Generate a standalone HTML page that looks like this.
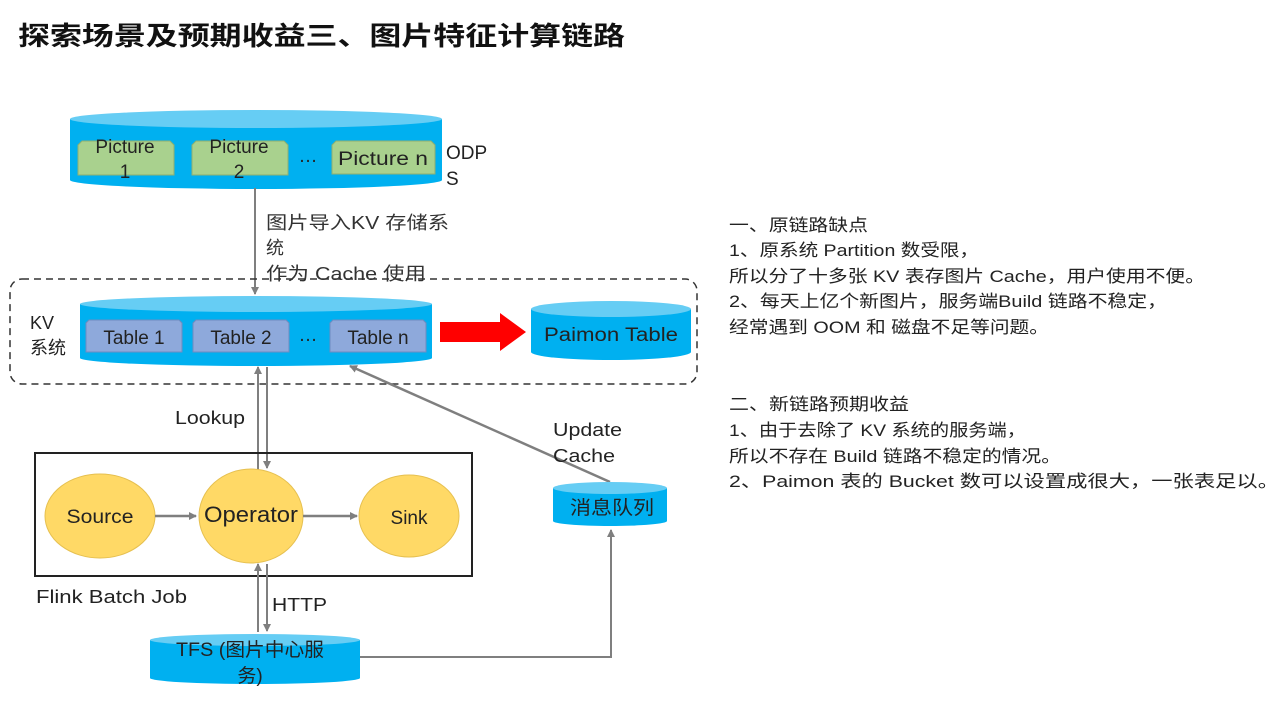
<!DOCTYPE html>
<html><head><meta charset="utf-8"><style>
html,body{margin:0;padding:0;background:#fff;width:1280px;height:720px;overflow:hidden}
svg text{font-family:"Liberation Sans","Noto Sans CJK SC",sans-serif;}
</style></head><body>
<svg width="1280" height="720" viewBox="0 0 1280 720" xmlns="http://www.w3.org/2000/svg">
<defs>
<marker id="ah" markerWidth="8" markerHeight="8" refX="7" refY="4" orient="auto" markerUnits="userSpaceOnUse">
<path d="M0,0 L8,4 L0,8 z" fill="#7f7f7f"/></marker>
</defs>
<text x="18" y="45" font-size="26" font-weight="bold" fill="#111" textLength="607" lengthAdjust="spacingAndGlyphs">探索场景及预期收益三、图片特征计算链路</text>

<path d="M70,119 L70,180 A186,9 0 0 0 442,180 L442,119 Z" fill="#00b0f0"/>
<ellipse cx="256" cy="119" rx="186" ry="9" fill="#66cdf4"/>
<g font-size="19" fill="#222" text-anchor="middle">
<path d="M78,145 l4,-4 h88 l4,4 v30 h-96z" fill="#a9d18e" stroke="#8fb070"/>
<path d="M192,145 l4,-4 h88 l4,4 v30 h-96z" fill="#a9d18e" stroke="#8fb070"/>
<path d="M332,145 l4,-4 h95 l4,4 v29 h-103z" fill="#a9d18e" stroke="#8fb070"/>
<text x="125" y="153">Picture</text><text x="125" y="178">1</text>
<text x="239" y="153">Picture</text><text x="239" y="178">2</text>
<text x="383" y="165" textLength="90" lengthAdjust="spacingAndGlyphs">Picture  n</text>
<text x="308" y="162">…</text>
</g>
<text x="446" y="159" font-size="19" fill="#222">ODP</text>
<text x="446" y="185" font-size="19" fill="#222">S</text>

<line x1="255" y1="188" x2="255" y2="294" stroke="#7f7f7f" stroke-width="2" marker-end="url(#ah)"/>
<g font-size="18" fill="#333">
<text x="266" y="229" textLength="183" lengthAdjust="spacingAndGlyphs">图片导入KV 存储系</text>
<text x="266" y="254">统</text>
<text x="266" y="280" textLength="160" lengthAdjust="spacingAndGlyphs">作为 Cache 使用</text>
</g>

<rect x="10" y="279" width="687" height="105" rx="12" fill="none" stroke="#333" stroke-width="1.5" stroke-dasharray="7,5"/>
<text x="30" y="329" font-size="18" fill="#222">KV</text>
<text x="30" y="354" font-size="18" fill="#222">系统</text>

<path d="M80,304 L80,358 A176,8 0 0 0 432,358 L432,304 Z" fill="#00b0f0"/>
<ellipse cx="256" cy="304" rx="176" ry="8" fill="#66cdf4"/>
<g font-size="19" fill="#222" text-anchor="middle">
<path d="M86,323 l3,-3 h90 l3,3 v29 h-96z" fill="#8ea9db" stroke="#6f8cc0"/>
<path d="M193,323 l3,-3 h90 l3,3 v29 h-96z" fill="#8ea9db" stroke="#6f8cc0"/>
<path d="M330,323 l3,-3 h90 l3,3 v29 h-96z" fill="#8ea9db" stroke="#6f8cc0"/>
<text x="134" y="344">Table  1</text>
<text x="241" y="344">Table  2</text>
<text x="378" y="344">Table  n</text>
<text x="308" y="341">…</text>
</g>

<path d="M440,322 L500,322 L500,313 L526,332 L500,351 L500,342 L440,342 Z" fill="#ff0000"/>

<path d="M531,309 L531,352 A80,8 0 0 0 691,352 L691,309 Z" fill="#00b0f0"/>
<ellipse cx="611" cy="309" rx="80" ry="8" fill="#66cdf4"/>
<text x="611" y="341" font-size="19" fill="#222" text-anchor="middle" textLength="134" lengthAdjust="spacingAndGlyphs">Paimon  Table</text>

<line x1="258" y1="470" x2="258" y2="367" stroke="#7f7f7f" stroke-width="2" marker-end="url(#ah)"/>
<line x1="267" y1="367" x2="267" y2="468" stroke="#7f7f7f" stroke-width="2" marker-end="url(#ah)"/>
<text x="175" y="424" font-size="18" fill="#222" textLength="70" lengthAdjust="spacingAndGlyphs">Lookup</text>

<line x1="610" y1="482" x2="350" y2="366" stroke="#7f7f7f" stroke-width="2.5" marker-end="url(#ah)"/>
<text x="553" y="436" font-size="18" fill="#222" textLength="69" lengthAdjust="spacingAndGlyphs">Update</text>
<text x="553" y="462" font-size="18" fill="#222" textLength="62" lengthAdjust="spacingAndGlyphs">Cache</text>

<rect x="35" y="453" width="437" height="123" fill="none" stroke="#222" stroke-width="2"/>
<ellipse cx="100" cy="516" rx="55" ry="42" fill="#ffd966" stroke="#e6c050"/>
<ellipse cx="251" cy="516" rx="52" ry="47" fill="#ffd966" stroke="#e6c050"/>
<ellipse cx="409" cy="516" rx="50" ry="41" fill="#ffd966" stroke="#e6c050"/>
<text x="100" y="523" font-size="19" fill="#222" text-anchor="middle" textLength="67" lengthAdjust="spacingAndGlyphs">Source</text>
<text x="251" y="522" font-size="22" fill="#222" text-anchor="middle" textLength="94" lengthAdjust="spacingAndGlyphs">Operator</text>
<text x="409" y="524" font-size="19" fill="#222" text-anchor="middle">Sink</text>
<line x1="155" y1="516" x2="196" y2="516" stroke="#7f7f7f" stroke-width="2.5" marker-end="url(#ah)"/>
<line x1="303" y1="516" x2="357" y2="516" stroke="#7f7f7f" stroke-width="2.5" marker-end="url(#ah)"/>
<text x="36" y="603" font-size="18" fill="#222" textLength="151" lengthAdjust="spacingAndGlyphs">Flink  Batch  Job</text>

<line x1="258" y1="632" x2="258" y2="564" stroke="#7f7f7f" stroke-width="2" marker-end="url(#ah)"/>
<line x1="267" y1="564" x2="267" y2="631" stroke="#7f7f7f" stroke-width="2" marker-end="url(#ah)"/>
<text x="272" y="611" font-size="18" fill="#222" textLength="55" lengthAdjust="spacingAndGlyphs">HTTP</text>

<path d="M150,640 L150,678 A105,6 0 0 0 360,678 L360,640 Z" fill="#00b0f0"/>
<ellipse cx="255" cy="640" rx="105" ry="6" fill="#66cdf4"/>
<text x="250" y="656" font-size="19" fill="#222" text-anchor="middle" textLength="148" lengthAdjust="spacingAndGlyphs">TFS (图片中心服</text>
<text x="250" y="682" font-size="19" fill="#222" text-anchor="middle">务)</text>

<polyline points="360,657 611,657 611,530" fill="none" stroke="#7f7f7f" stroke-width="2" marker-end="url(#ah)"/>

<path d="M553,488 L553,521 A57,5 0 0 0 667,521 L667,488 Z" fill="#00b0f0"/>
<ellipse cx="610" cy="488" rx="57" ry="6" fill="#66cdf4"/>
<text x="612" y="514" font-size="19" fill="#222" text-anchor="middle" textLength="84" lengthAdjust="spacingAndGlyphs">消息队列</text>

<g font-size="17" fill="#222">
<text x="729" y="231" textLength="139" lengthAdjust="spacingAndGlyphs">一、原链路缺点</text>
<text x="729" y="256" textLength="250" lengthAdjust="spacingAndGlyphs">1、原系统 Partition  数受限，</text>
<text x="729" y="282" textLength="476" lengthAdjust="spacingAndGlyphs">所以分了十多张 KV 表存图片 Cache，用户使用不便。</text>
<text x="729" y="307" textLength="438" lengthAdjust="spacingAndGlyphs">2、每天上亿个新图片，服务端Build  链路不稳定，</text>
<text x="729" y="333" textLength="320" lengthAdjust="spacingAndGlyphs">经常遇到 OOM  和 磁盘不足等问题。</text>
<text x="729" y="410" textLength="180" lengthAdjust="spacingAndGlyphs">二、新链路预期收益</text>
<text x="729" y="436" textLength="297" lengthAdjust="spacingAndGlyphs">1、由于去除了 KV 系统的服务端，</text>
<text x="729" y="462" textLength="332" lengthAdjust="spacingAndGlyphs">所以不存在 Build  链路不稳定的情况。</text>
<text x="729" y="487" textLength="550" lengthAdjust="spacingAndGlyphs">2、Paimon  表的 Bucket  数可以设置成很大，一张表足以。</text>
</g>
</svg>
</body></html>
